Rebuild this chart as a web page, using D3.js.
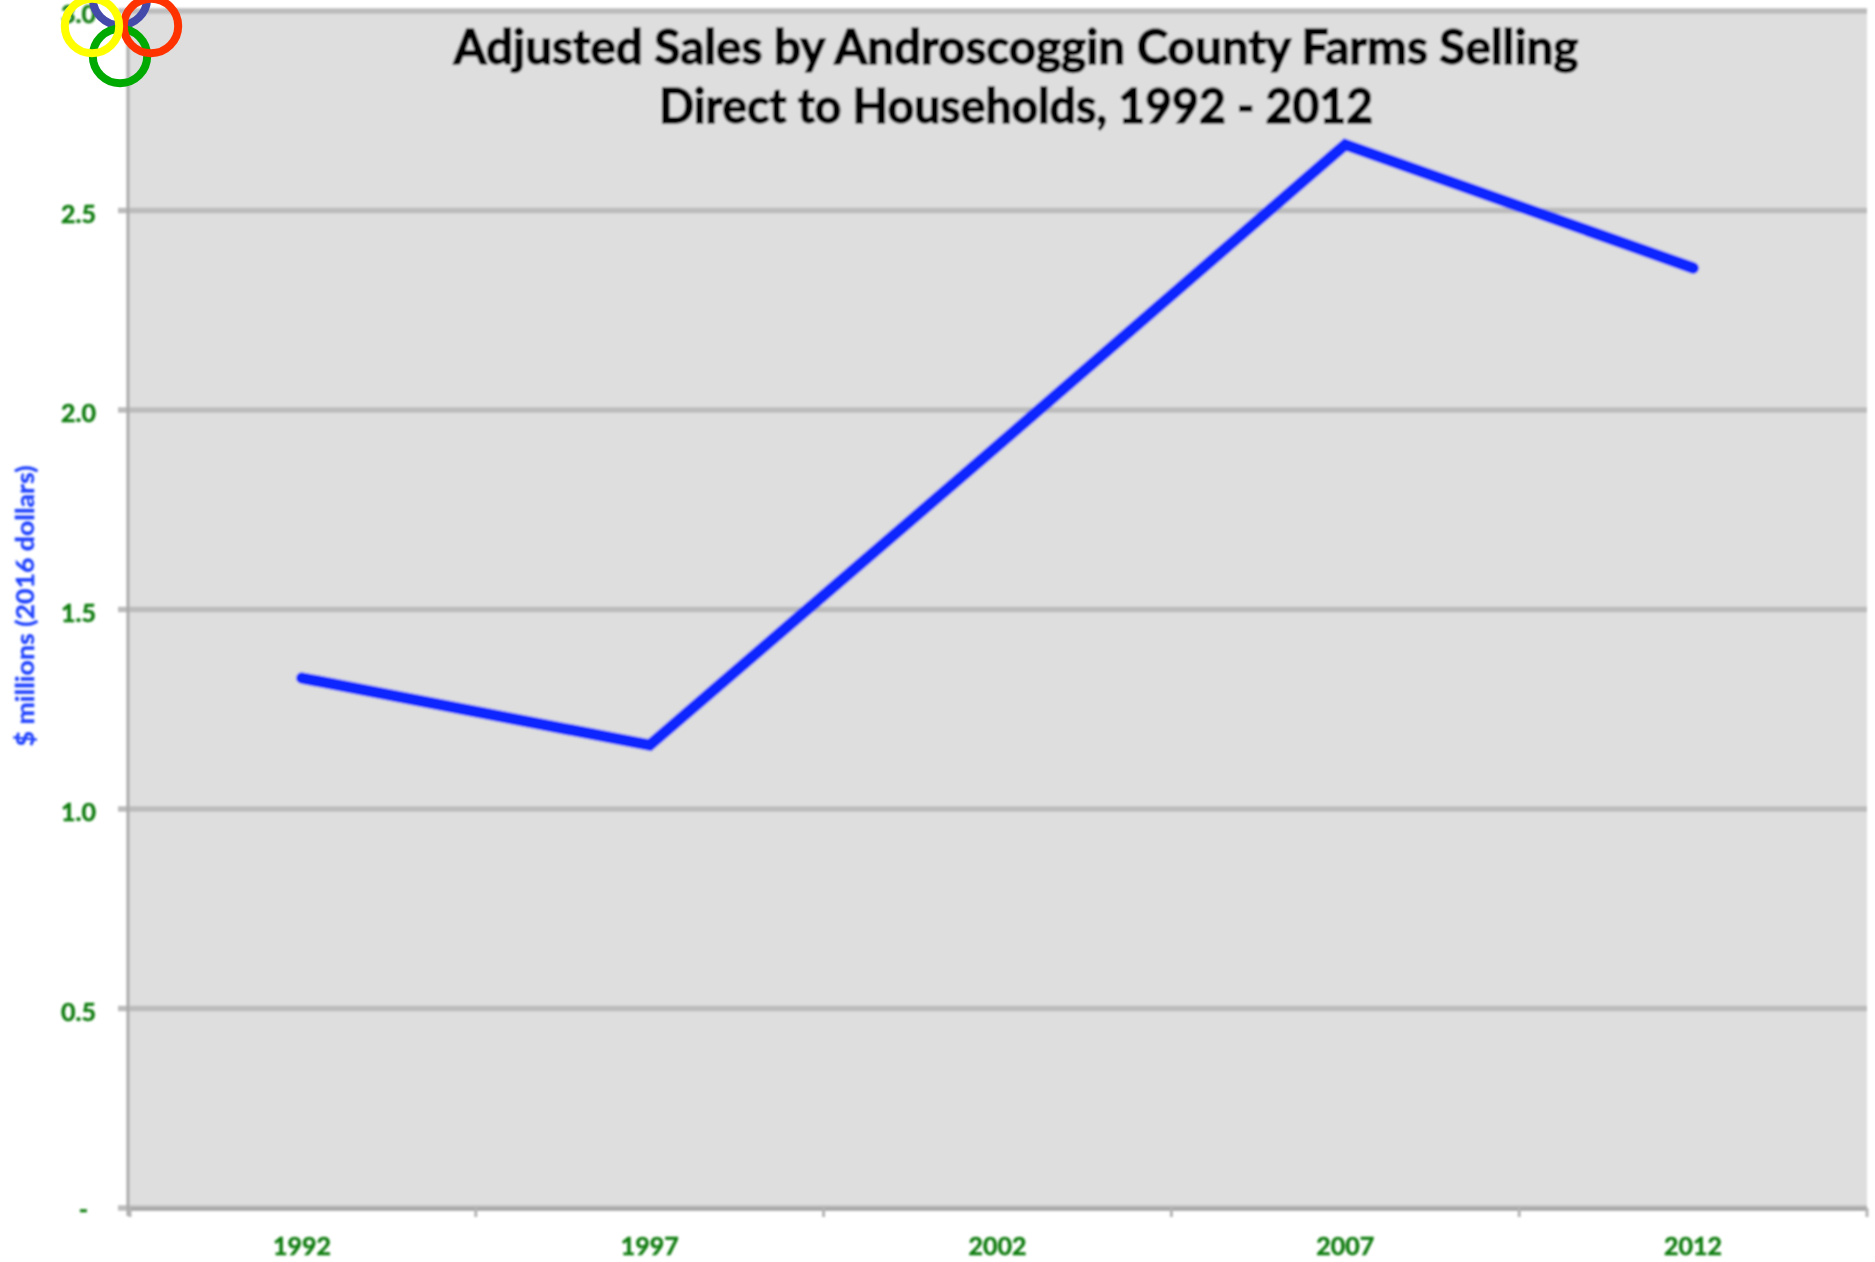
<!DOCTYPE html>
<html><head><meta charset="utf-8">
<script src="https://cdn.jsdelivr.net/npm/d3@7"></script>
<style>html,body{margin:0;padding:0;background:#fff}svg{display:block}text{font-family:Lato,"Open Sans",sans-serif;font-weight:700}</style>
</head><body><div id="c"></div>
<script>
const years=["1992","1997","2002","2007","2012"];
const sales=[1.328,1.16,1.91,2.665,2.356];
const yTicks=[0,0.5,1,1.5,2,2.5,3];
const titleLines=["Adjusted Sales by Androscoggin County Farms Selling","Direct to Households, 1992 - 2012"];
const yLabel="$ millions (2016 dollars)";
const rings=[["#444aaa",120,-2],["#00aa00",120,56],["#ff3300",151,26],["#ffff00",92,26]];

const W=1875,H=1262,L=128,R=1867,T=11,B=1208;
const svg=d3.select("#c").append("svg").attr("width",W).attr("height",H);
const defs=svg.append("defs");
defs.append("filter").attr("id","soft").append("feGaussianBlur").attr("stdDeviation",0.8);
const x=d3.scaleBand().domain(years).range([L,R]);
const y=d3.scaleLinear().domain([0,3]).range([B,T]);
const g=svg.append("g").attr("filter","url(#soft)");
g.append("rect").attr("x",L).attr("y",T).attr("width",R-L).attr("height",B-T).attr("fill","#dedede");
g.selectAll("line.grid").data(yTicks).join("line").attr("class","grid")
 .attr("x1",L-10).attr("x2",R).attr("y1",d=>y(d)).attr("y2",d=>y(d))
 .attr("stroke","#bcbcbc").attr("stroke-width",5.5);
g.append("line").attr("x1",L).attr("x2",L).attr("y1",T-2).attr("y2",B+8).attr("stroke","#aaa").attr("stroke-width",3);
g.append("line").attr("x1",L).attr("x2",R).attr("y1",B+1).attr("y2",B+1).attr("stroke","#a4a4a4").attr("stroke-width",3);
const edges=[L+2,...years.map(d=>x(d)+x.bandwidth())];
g.selectAll("line.tick").data(edges).join("line").attr("class","tick")
 .attr("x1",d=>d).attr("x2",d=>d).attr("y1",B).attr("y2",B+9).attr("stroke","#b4b4b4").attr("stroke-width",3);
g.selectAll("text.yt").data(yTicks).join("text").attr("class","yt")
 .attr("x",d=>d===0?88:96).attr("y",d=>y(d)+(d===0?10:12)).attr("text-anchor","end")
 .attr("font-size",25).attr("fill","#0f7d0f").attr("stroke","#0f7d0f").attr("stroke-width",0.5).text(d=>d===0?"-":d3.format(".1f")(d));
g.selectAll("text.xt").data(years).join("text").attr("class","xt")
 .attr("x",d=>x(d)+x.bandwidth()/2).attr("y",1255).attr("text-anchor","middle")
 .attr("font-size",25).attr("fill","#0f7d0f").attr("stroke","#0f7d0f").attr("stroke-width",0.5).text(d=>d);
g.append("text").attr("transform","translate(34,606) rotate(-90)").attr("text-anchor","middle")
 .attr("font-size",25).attr("textLength",281).attr("lengthAdjust","spacingAndGlyphs").attr("fill","#1f40ff").attr("stroke","#1f40ff").attr("stroke-width",0.3).text(yLabel);
g.append("path").datum(sales)
 .attr("d",d3.line().x((d,i)=>x(years[i])+x.bandwidth()/2).y(d=>y(d)))
 .attr("fill","none").attr("stroke","#0a28ff").attr("stroke-width",11.5).attr("stroke-linecap","round").attr("stroke-linejoin","miter");
g.selectAll("text.title").data(titleLines).join("text").attr("class","title")
 .attr("x",1016).attr("y",(d,i)=>64+i*59).attr("text-anchor","middle")
 .attr("font-size",47).attr("textLength",(d,i)=>i?714:1125).attr("lengthAdjust","spacingAndGlyphs").attr("fill","#000").attr("stroke","#000").attr("stroke-width",1.3).text(d=>d);
svg.selectAll("circle.ring").data(rings).join("circle").attr("class","ring")
 .attr("cx",d=>d[1]).attr("cy",d=>d[2]).attr("r",27.2)
 .attr("fill","none").attr("stroke",d=>d[0]).attr("stroke-width",8);
</script></body></html>
